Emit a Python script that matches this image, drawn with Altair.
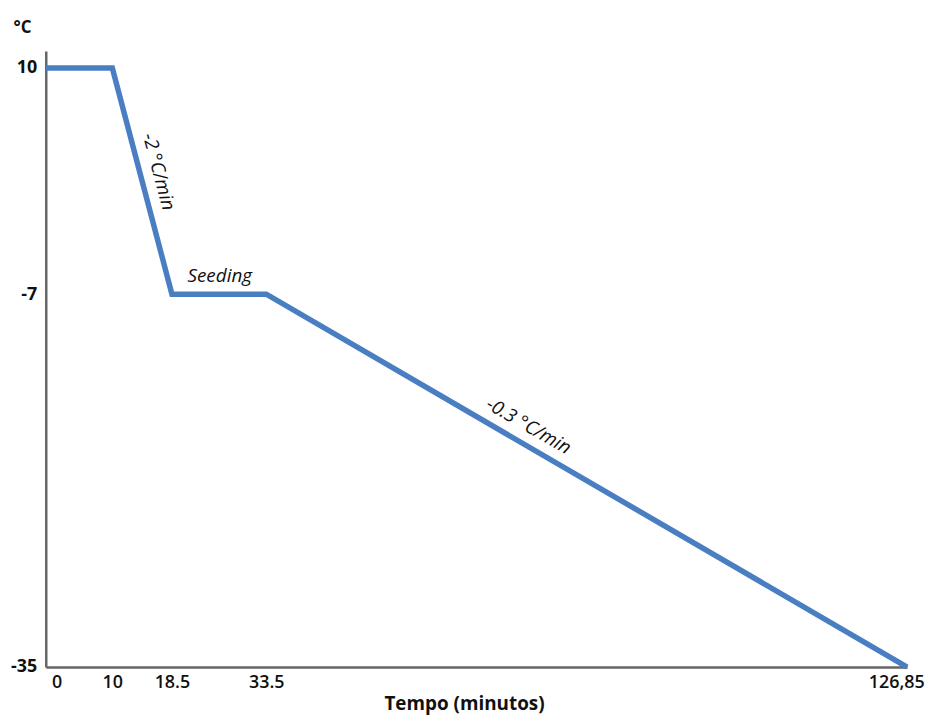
import altair as alt
import pandas as pd

# data
tempo = [0, 10, 18.5, 33.5, 126.85]
temperatura = [10, 10, -7, -7, -35]
x_ticks = [0, 10, 18.5, 33.5, 126.85]
y_ticks = [10, -7, -35]

ann_text = ["-2 °C/min", "Seeding", "-0.3 °C/min"]
ann_x = [16.6, 26.1, 71.7]
ann_y = [2.2, -5.6, -16.9]
ann_angle = [75, 0, 30]

df = pd.DataFrame({"t": tempo, "c": temperatura})
ann = pd.DataFrame({"txt": ann_text, "t": ann_x, "c": ann_y, "ang": ann_angle})

FONT = "Open Sans"

xscale = alt.Scale(domain=x_ticks, range=[0, 67, 127, 222, 867], nice=False, zero=False)
yscale = alt.Scale(domain=[-35, 11.27], nice=False, zero=False)

xaxis = alt.Axis(
    values=x_ticks,
    title="Tempo (minutos)",
    titleFont=FONT, titleFontSize=19, titleFontWeight="bold", titleColor="#111",
    titlePadding=3, titleX=421,
    labelFont=FONT, labelFontSize=18, labelFontWeight=600, labelColor="#111",
    labelExpr="datum.value == 126.85 ? '126,85' : toString(datum.value)",
    labelOffset={"condition": [
        {"test": "datum.value == 0", "value": 11},
        {"test": "datum.value == 126.85", "value": -11},
    ], "value": 0},
    labelFlush=False, labelOverlap=False, labelPadding=7,
    ticks=False, grid=False, domainColor="#666", domainWidth=2.5,
)
yaxis = alt.Axis(
    values=y_ticks,
    title="°C",
    titleAngle=0, titleX=-24, titleY=-24, titleAlign="center", titleBaseline="middle",
    titleFont=FONT, titleFontSize=17, titleFontWeight="bold", titleColor="#111",
    labelFont=FONT, labelFontSize=18, labelFontWeight="bold", labelColor="#111",
    labelExpr="toString(datum.value)",
    labelPadding=9,
    ticks=False, grid=False, domainColor="#666", domainWidth=2.5,
)

line = alt.Chart(df).mark_line(color="#4A7EC2", strokeWidth=5.5, strokeJoin="miter", clip=False).encode(
    x=alt.X("t:Q", scale=xscale, axis=xaxis),
    y=alt.Y("c:Q", scale=yscale, axis=yaxis),
)

texts = alt.Chart(ann).mark_text(font=FONT, fontSize=19, fontStyle="italic", color="#111",
                                  align="center", baseline="middle").encode(
    x=alt.X("t:Q", scale=xscale),
    y=alt.Y("c:Q", scale=yscale),
    text="txt:N",
    angle=alt.Angle("ang:Q", scale=None),
)

chart = alt.layer(line, texts).properties(
    width=869, height=620,
    autosize=alt.AutoSizeParams(type="none"),
    padding={"left": 38, "top": 41, "right": 20, "bottom": 50},
).configure(background="white").configure_view(stroke=None)

chart.save("out.html", embed_options={"renderer": "svg", "actions": False})
